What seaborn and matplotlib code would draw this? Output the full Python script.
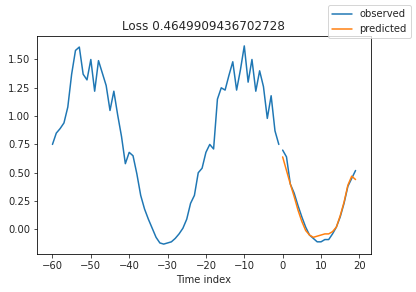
import matplotlib
matplotlib.use("Agg")
import matplotlib.pyplot as plt
import seaborn as sns
import numpy as np
import pandas as pd

sns.set_style("ticks")
plt.rcParams['font.family'] = ['DejaVu Sans']

past_t = list(range(-60, 0))
past_obs = [0.75, 0.85, 0.89, 0.94, 1.08, 1.37, 1.58, 1.61, 1.37, 1.32,
            1.50, 1.22, 1.49, 1.38, 1.27, 1.05, 1.22, 1.01, 0.82, 0.58,
            0.68, 0.65, 0.49, 0.30, 0.18, 0.09, 0.01, -0.07, -0.12, -0.13,
            -0.12, -0.11, -0.08, -0.04, 0.01, 0.09, 0.23, 0.30, 0.50, 0.54,
            0.68, 0.75, 0.71, 1.15, 1.25, 1.23, 1.36, 1.48, 1.23, 1.41,
            1.62, 1.30, 1.50, 1.22, 1.40, 1.26, 0.98, 1.18, 0.87, 0.75]
fut_t = list(range(0, 20))
fut_obs = [0.70, 0.64, 0.40, 0.32, 0.21, 0.11, 0.02, -0.05, -0.08, -0.11,
           -0.11, -0.09, -0.09, -0.04, 0.02, 0.11, 0.23, 0.38, 0.45, 0.52]
fut_pred = [0.64, 0.52, 0.40, 0.29, 0.17, 0.07, -0.01, -0.05, -0.07, -0.06,
            -0.05, -0.04, -0.04, -0.02, 0.02, 0.12, 0.24, 0.39, 0.47, 0.44]

title = "Loss 0.4649909436702728"

fig = plt.figure(figsize=(416/72, 292/72), dpi=72)
ax = fig.add_axes([37.3/416, 1-254/292, (370.7-37.3)/416, (254-36)/292])

blue = "#1f77b4"
orange = "#ff7f0e"
df_past = pd.DataFrame({"t": past_t, "v": past_obs})
df_fut = pd.DataFrame({"t": fut_t, "v": fut_obs})
df_pred = pd.DataFrame({"t": fut_t, "v": fut_pred})

sns.lineplot(data=df_past, x="t", y="v", ax=ax, color=blue, label="observed", linewidth=1.5)
sns.lineplot(data=df_fut, x="t", y="v", ax=ax, color=blue, linewidth=1.5)
sns.lineplot(data=df_pred, x="t", y="v", ax=ax, color=orange, label="predicted", linewidth=1.5)

ax.set_xticks([-60, -50, -40, -30, -20, -10, 0, 10, 20])
ax.set_yticks([0.0, 0.25, 0.5, 0.75, 1.0, 1.25, 1.5])
ax.set_xlabel("Time index", fontsize=10)
ax.set_ylabel("")
ax.set_title(title, fontsize=12)
ax.tick_params(labelsize=10)
for s in ax.spines.values():
    s.set_linewidth(0.8)
    s.set_color("black")

h, l = ax.get_legend_handles_labels()
ax.get_legend().remove()
fig.legend(h, l, loc="upper right", fontsize=10)

fig.savefig("out.png", dpi=72)
